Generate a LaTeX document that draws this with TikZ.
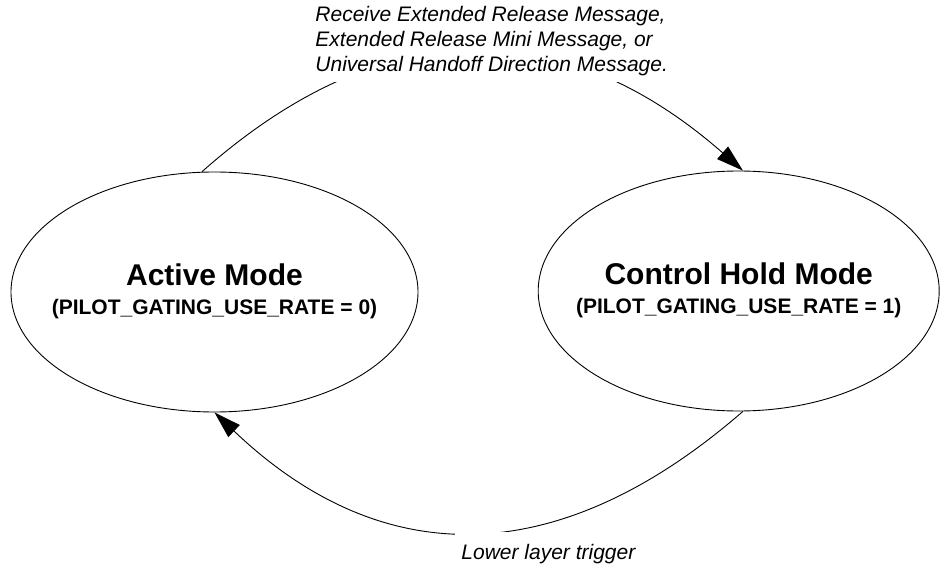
\documentclass[tikz,border=0pt]{standalone}
\usepackage{fontspec}
\setmainfont{Liberation Sans}
\usetikzlibrary{shapes.geometric,arrows.meta}

\begin{document}
\begin{tikzpicture}[x=1pt, y=-1pt, line width=0.9pt,
    state/.style = {draw, ellipse, inner xsep=-30pt, inner ysep=0pt, minimum height=240pt, align=center, font=\bfseries},
    msg/.style = {fill=white, align=left, font=\fontsize{21}{25}\selectfont\itshape},
    arr/.style = {-{Triangle[length=27pt, width=16.5pt]}}]
    \useasboundingbox (0,0) rectangle (940,564);
    \node[state, minimum width=407pt] (act) at (214.5,292) {\fontsize{30}{31}\selectfont Active Mode\\[12pt] \fontsize{21}{31}\selectfont (PILOT\_GATING\_USE\_RATE = 0)\rule[-6pt]{0pt}{0pt}};
    \node[state, minimum width=401pt] (hold) at (738.7,291) {\fontsize{30}{31}\selectfont Control Hold Mode\\[12pt] \fontsize{21}{31}\selectfont (PILOT\_GATING\_USE\_RATE = 1)\rule[-6pt]{0pt}{0pt}};
    \draw[arr] (act.96) .. controls (382,12) and (562,12) .. (hold.88);
    \draw[arr] (hold.272) .. controls (558,572) and (382,572) .. (act.270);
    \node[msg, anchor=north west, inner xsep=4pt, inner ysep=6pt] (recv) at (311,0) {Receive Extended Release Message,\\Extended Release Mini Message, or\\Universal Handoff Direction Message.};
    \node[msg, anchor=north west, inner xsep=6pt, inner ysep=12pt] (lower) at (455,531.8) {Lower layer trigger};
\end{tikzpicture}
\end{document}
